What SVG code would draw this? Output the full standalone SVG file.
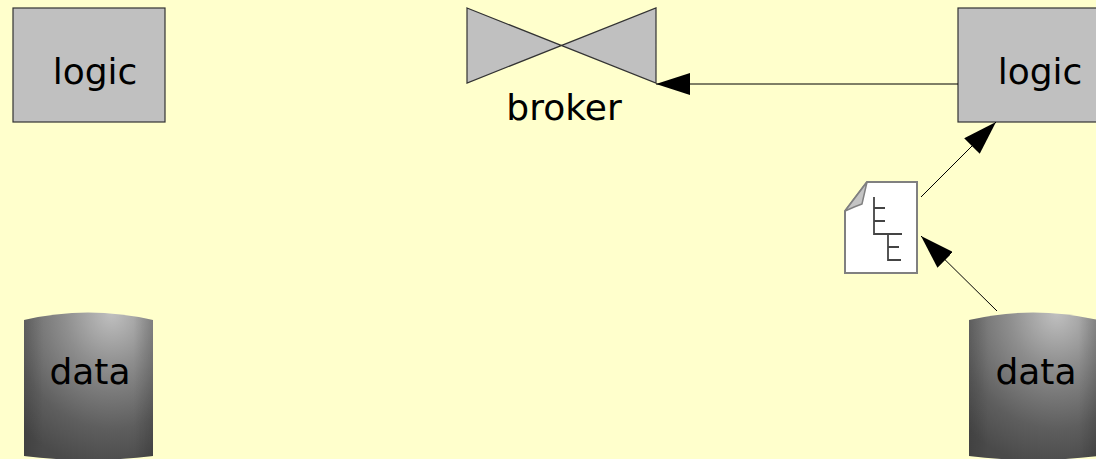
<svg xmlns="http://www.w3.org/2000/svg" width="1096" height="459" viewBox="0 0 1096 459">
<style>
.bg{fill:#ffffcc}
.box{fill:#c0c0c0;stroke:#333;stroke-width:1.2}
.lbl{font-family:"DejaVu Sans",Verdana,sans-serif;font-size:36px;fill:#000;text-anchor:middle}
.con{stroke:#000;stroke-width:1;fill:none}
.cyl{fill:url(#cylR)}
.tree{fill:none;stroke:#444;stroke-width:1.8}
</style>
<defs>
<radialGradient id="cylR" cx="0.68" cy="0" r="1.05" fx="0.68" fy="0">
<stop offset="0" stop-color="#c0c0c0"/>
<stop offset="0.35" stop-color="#8e8e8e"/>
<stop offset="0.75" stop-color="#5e5e5e"/>
<stop offset="1" stop-color="#4a4a4a"/>
</radialGradient>
<linearGradient id="cylEdge" x1="0" y1="0" x2="1" y2="0">
<stop offset="0" stop-color="#000" stop-opacity="0.12"/>
<stop offset="0.15" stop-color="#000" stop-opacity="0"/>
<stop offset="0.85" stop-color="#000" stop-opacity="0"/>
<stop offset="1" stop-color="#000" stop-opacity="0.15"/>
</linearGradient>
<marker id="arr" viewBox="0 0 34 22" refX="34" refY="11" markerWidth="34" markerHeight="22" markerUnits="userSpaceOnUse" orient="auto">
<path d="M0,0 L34,11 L0,22 Z" fill="#000"/>
</marker>
</defs>
<rect class="bg" x="0" y="0" width="1096" height="459"/>

<g id="logic-left">
<rect class="box" x="13" y="8" width="152" height="114"/>
<text class="lbl" x="95" y="84">logic</text>
</g>

<g id="broker">
<path class="box" d="M467,8 L656,83 L656,8 L467,83 Z"/>
<text class="lbl" x="564" y="120">broker</text>
</g>

<g id="logic-right">
<rect class="box" x="958" y="8" width="152" height="114"/>
<text class="lbl" x="1040" y="84">logic</text>
</g>

<g id="doc">
<path d="M867,182 L917,182 L917,273 L845,273 L845,211 Z" fill="#fff" stroke="#808080" stroke-width="2"/>
<path d="M845,211 L867,182 L862,204 Q856,206 845,211 Z" fill="#c4c4c4" stroke="#808080" stroke-width="1.5"/>
<path class="tree" d="M874,197 L874,234 L902,234 M874,208 L885,208 M874,221 L885,221 M888,234 L888,260 L901,260 M888,247 L899,247"/>
</g>

<g id="data-left">
<path class="cyl" d="M24,320 Q88,305 153,320 L153,456 Q88,464 24,456 Z"/>
<path d="M24,320 Q88,305 153,320 L153,456 Q88,464 24,456 Z" fill="url(#cylEdge)"/>
<text class="lbl" x="90" y="384">data</text>
</g>

<g id="data-right">
<path class="cyl" d="M969,320 Q1033,305 1098,320 L1098,456 Q1033,464 969,456 Z"/>
<path d="M969,320 Q1033,305 1098,320 L1098,456 Q1033,464 969,456 Z" fill="url(#cylEdge)"/>
<text class="lbl" x="1036" y="384">data</text>
</g>

<g id="connectors">
<line class="con" x1="958" y1="84" x2="656" y2="84" marker-end="url(#arr)"/>
<line class="con" x1="921" y1="197" x2="996" y2="122" marker-end="url(#arr)"/>
<line class="con" x1="997" y1="311" x2="921" y2="236" marker-end="url(#arr)"/>
</g>
</svg>
